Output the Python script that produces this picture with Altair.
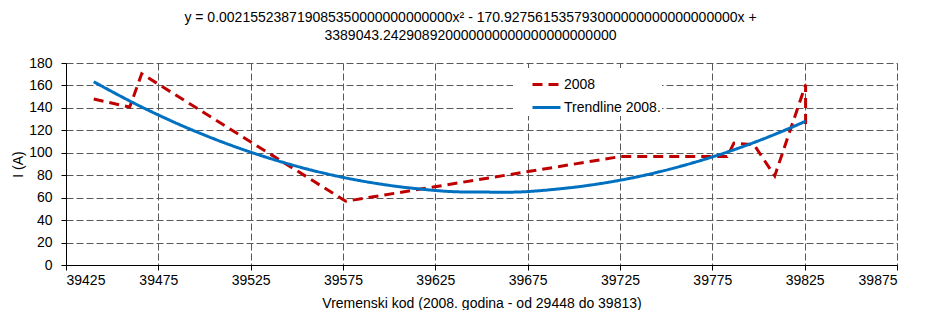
import altair as alt
import pandas as pd

# ---- data ----
SERIES = ["2008", "Trendline 2008."]

RED_X = [39440, 39459.5, 39466, 39576.5, 39725, 39783, 39786.7, 39797.6, 39808.8, 39825.5, 39825.5]
RED_Y = [147.9, 140.7, 170.4, 56.8, 96.6, 96.6, 108.6, 107.1, 79.4, 160.6, 122.0]

TREND_X = [39440, 39465, 39490, 39515, 39540, 39565, 39590, 39615, 39640,
           39665, 39690, 39715, 39740, 39765, 39790, 39815, 39825.5]
TREND_Y = [163.3, 141.6, 122.6, 106.3, 92.7, 81.7, 73.5, 68.0, 65.1,
           64.9, 67.5, 72.7, 80.6, 91.3, 104.6, 120.6, 128.1]

X_TICKS = [39425, 39475, 39525, 39575, 39625, 39675, 39725, 39775, 39825, 39875]
Y_TICKS = [0, 20, 40, 60, 80, 100, 120, 140, 160, 180]

TITLE_LINES = [
    "y = 0.002155238719085350000000000000x\u00b2 - 170.927561535793000000000000000000x +",
    "3389043.242908920000000000000000000000",
]
X_TITLE = "Vremenski kod (2008. godina - od 29448 do 39813)"
Y_TITLE = "I (A)"

COLORS = ["#C00000", "#0070C0"]
DASHES = [[10, 6], [1, 0]]

FONT = "Liberation Sans"

df = pd.DataFrame({
    "x": RED_X + TREND_X,
    "y": RED_Y + TREND_Y,
    "series": [SERIES[0]] * len(RED_X) + [SERIES[1]] * len(TREND_X),
    "idx": list(range(len(RED_X))) + list(range(len(TREND_X))),
})

W, H = 831, 202

legend = alt.Legend(title=None, orient="none", legendX=447, legendY=5,
                    fillColor="white", padding=1, rowPadding=-4,
                    symbolType="stroke", symbolSize=784, symbolOffset=17,
                    symbolStrokeWidth=3, labelOffset=2,
                    labelFontSize=14, labelFont=FONT, labelColor="black")

xenc = alt.X("x:Q",
             scale=alt.Scale(domain=[X_TICKS[0], X_TICKS[-1]], nice=False, zero=False),
             axis=alt.Axis(values=X_TICKS, title=X_TITLE, format="d",
                           labelPadding=3, tickSize=5,
                           titleY=38, titleBaseline="middle"))
yenc = alt.Y("y:Q",
             scale=alt.Scale(domain=[Y_TICKS[0], Y_TICKS[-1]], nice=False),
             axis=alt.Axis(values=Y_TICKS, title=Y_TITLE,
                           labelPadding=9, tickSize=5,
                           titleX=-48, titleY=H / 2, titleAngle=-90,
                           titleAlign="center", titleBaseline="middle"))
cenc = alt.Color("series:N", scale=alt.Scale(domain=SERIES, range=COLORS), legend=legend)
denc = alt.StrokeDash("series:N", scale=alt.Scale(domain=SERIES, range=DASHES), legend=legend)

base = alt.Chart(df).encode(x=xenc, y=yenc, color=cenc, strokeDash=denc,
                            order=alt.Order("idx:Q"))

red = base.transform_filter(alt.datum.series == SERIES[0]).mark_line(
    strokeWidth=3, interpolate="linear")
blue = base.transform_filter(alt.datum.series == SERIES[1]).mark_line(
    strokeWidth=3, interpolate="monotone")

chart = alt.layer(red, blue).properties(
    width=W, height=H,
    autosize=alt.AutoSizeParams(type="none"),
    padding={"left": 58, "top": 55, "right": 20, "bottom": 45},
    title=alt.TitleParams(text=TITLE_LINES, fontSize=14, font=FONT, fontWeight="normal",
                          color="black", anchor="middle", frame="group", dx=-11,
                          lineHeight=18, offset=13),
).configure_view(strokeWidth=0).configure_axis(
    labelFont=FONT, labelFontSize=14, labelColor="black",
    titleFont=FONT, titleFontSize=14, titleFontWeight="normal", titleColor="black",
    domainColor="black", domainWidth=1, tickColor="black", tickWidth=1,
    grid=True, gridColor="#595959", gridDash=[7, 3], gridWidth=1, gridOpacity=1,
)

chart.save("out.html", embed_options={"renderer": "svg", "actions": False})
